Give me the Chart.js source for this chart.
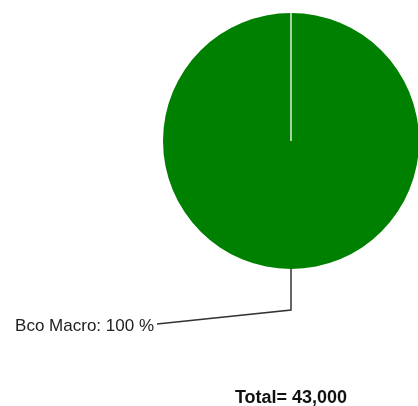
<!DOCTYPE html>
<html lang="pt-br">
<head>
    <meta charset="UTF-8">
    <title>Total por banco</title>
    <script src="https://cdn.jsdelivr.net/npm/chart.js"></script>
    <style>
        html, body { margin: 0; padding: 0; background: #fff; overflow: hidden; }
        #pizza { display: block; }
    </style>
</head>
<body>
    <canvas id="pizza" width="418" height="406"></canvas>

    <script>
        // Dados do gráfico
        const bancos = ['Bco Macro'];
        const valores = [43000];
        const cores = ['#008000'];

        const fonte = '"Liberation Sans", Arial, sans-serif';
        const total = valores.reduce((a, b) => a + b, 0);

        // Desenha a linha divisória, o rótulo com linha guia e o total
        const rotulosPizza = {
            id: 'rotulosPizza',
            afterDatasetsDraw(chart) {
                const ctx = chart.ctx;
                const arcos = chart.getDatasetMeta(0).data;

                arcos.forEach(function (arco, i) {
                    const r = arco.outerRadius;
                    const cx = arco.x;
                    const cy = arco.y;

                    // linha clara no início da fatia
                    ctx.save();
                    ctx.strokeStyle = 'rgba(255,255,255,0.65)';
                    ctx.lineWidth = 2;
                    ctx.beginPath();
                    ctx.moveTo(cx, cy);
                    ctx.lineTo(cx + Math.cos(arco.startAngle) * r, cy + Math.sin(arco.startAngle) * r);
                    ctx.stroke();
                    ctx.restore();

                    // linha guia até o rótulo
                    const meio = (arco.startAngle + arco.endAngle) / 2;
                    const x0 = cx + Math.cos(meio) * r;
                    const y0 = cy + Math.sin(meio) * r;
                    const xCotovelo = x0;
                    const yCotovelo = y0 + 41;
                    const xFim = x0 - 134;
                    const yFim = y0 + 55;

                    ctx.save();
                    ctx.strokeStyle = '#333';
                    ctx.lineWidth = 1.5;
                    ctx.beginPath();
                    ctx.moveTo(x0, y0);
                    ctx.lineTo(xCotovelo, yCotovelo);
                    ctx.lineTo(xFim, yFim);
                    ctx.stroke();

                    const pct = Math.round(valores[i] / total * 100);
                    ctx.fillStyle = '#222';
                    ctx.font = '17px ' + fonte;
                    ctx.textAlign = 'right';
                    ctx.textBaseline = 'alphabetic';
                    ctx.fillText(bancos[i] + ': ' + pct + ' %', xFim - 3, yFim + 7);
                    ctx.restore();
                });

                // total embaixo
                const cxTotal = arcos[0].x;
                ctx.save();
                ctx.fillStyle = '#111';
                ctx.font = 'bold 18px ' + fonte;
                ctx.textAlign = 'center';
                ctx.textBaseline = 'alphabetic';
                ctx.fillText('Total= ' + total.toLocaleString('en-US'), cxTotal, 403);
                ctx.restore();
            }
        };

        new Chart(document.getElementById('pizza'), {
            type: 'pie',
            data: {
                labels: bancos,
                datasets: [{
                    data: valores,
                    backgroundColor: cores,
                    borderWidth: 0,
                    hoverOffset: 0,
                    clip: false
                }]
            },
            options: {
                responsive: false,
                animation: false,
                radius: 128,
                layout: {
                    padding: { left: 164, right: 0, top: 13, bottom: 137 }
                },
                plugins: {
                    legend: { display: false },
                    tooltip: { enabled: false }
                }
            },
            plugins: [rotulosPizza]
        });
    </script>
</body>
</html>
